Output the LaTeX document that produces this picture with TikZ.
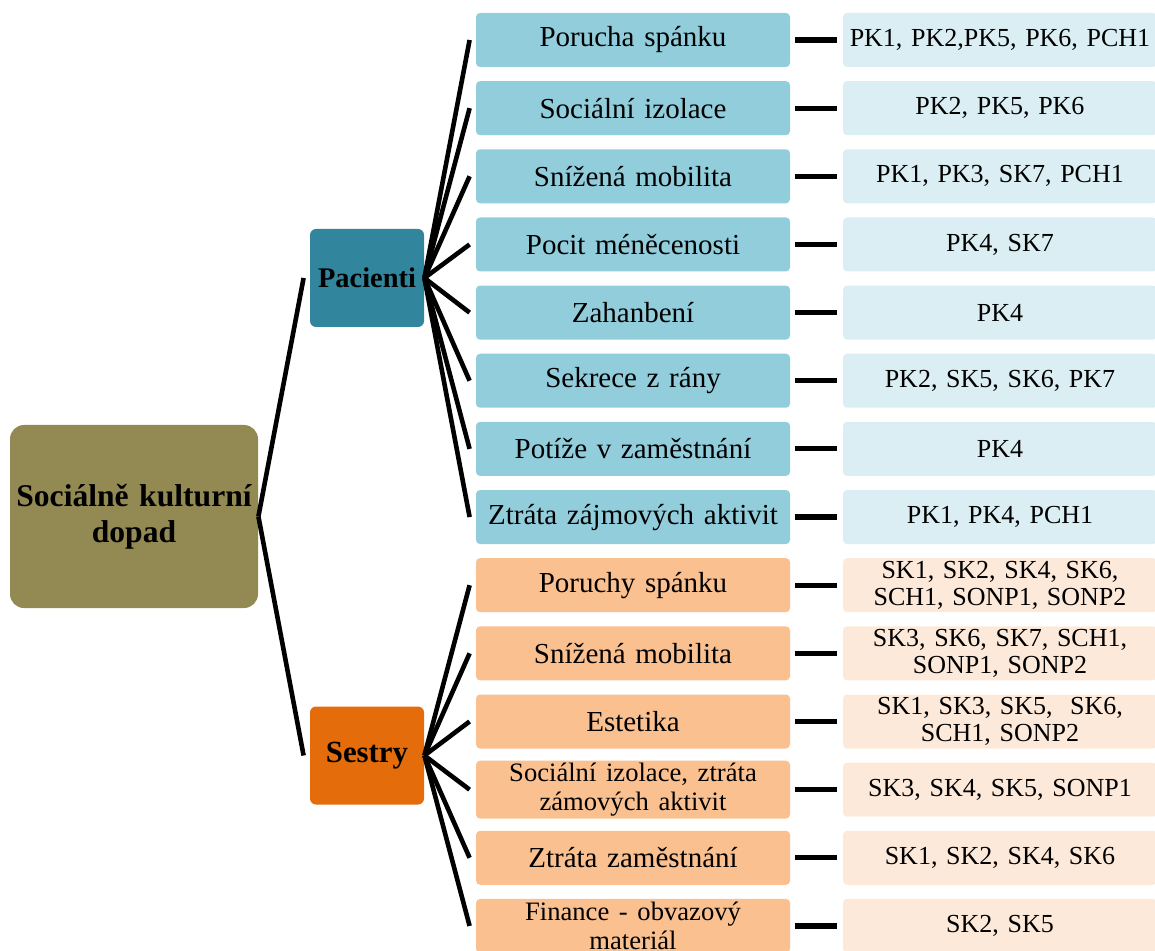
\documentclass[tikz,border=0pt]{standalone}
\usepackage{fontspec}
\setmainfont{Liberation Serif}
\usetikzlibrary{positioning,calc}
\definecolor{rootolive}{HTML}{938953}
\definecolor{pacteal}{HTML}{31859C}
\definecolor{pacmid}{HTML}{92CDDC}
\definecolor{paclight}{HTML}{DAEEF3}
\definecolor{sesorange}{HTML}{E46C0A}
\definecolor{sesmid}{HTML}{FAC090}
\definecolor{seslight}{HTML}{FDE9D9}
\newcommand{\twoline}{\fontsize{13.3}{13.4}\selectfont}
\tikzset{
  box/.style={rounded corners=2pt,inner sep=1pt,align=center},
  rootbox/.style={box,fill=rootolive,rounded corners=7pt,minimum width=124pt,
    minimum height=91.5pt,text width=122pt,
    font=\fontsize{15.8}{17.8}\selectfont\bfseries},
  grpbox/.style={box,rounded corners=3pt,minimum width=57pt,minimum height=49pt},
  itembox/.style={box,minimum width=157pt,minimum height=27pt,text width=155pt,
    font=\fontsize{14.5}{14.8}\selectfont},
  codebox/.style={box,minimum width=157pt,minimum height=27pt,text width=155pt,
    font=\fontsize{13}{13.7}\selectfont},
  branch/.style={line width=2.3pt,black},
  stub/.style={line width=2.6pt,black},
}

\begin{document}
\begin{tikzpicture}[x=0.5pt,y=-0.5pt]
  \useasboundingbox (0,0) rectangle (1155,951);
  \node[rootbox] (root) at (134,516.5) {Sociálně kulturní\\dopad};
  \node[grpbox,fill=pacteal,font=\fontsize{14.2}{15}\selectfont\bfseries]
    (pac) at (367,278) {Pacienti};
  \node[grpbox,fill=sesorange,font=\fontsize{15.4}{16}\selectfont\bfseries]
    (ses) at (367,755.5) {Sestry};
  \draw[branch] (root.east) -- ([xshift=-3pt]pac.west);
  \draw[branch] (root.east) -- ([xshift=-3pt]ses.west);
  % pacienti
  \foreach \i/\txt/\codes in {
      1/Porucha spánku/{PK1, PK2,PK5, PK6, PCH1},
      2/Sociální izolace/{PK2, PK5, PK6},
      3/Snížená mobilita/{PK1, PK3, SK7, PCH1},
      4/Pocit méněcenosti/{PK4, SK7},
      5/Zahanbení/PK4,
      6/Sekrece z rány/{PK2, SK5, SK6, PK7},
      7/Potíže v zaměstnání/PK4,
      8/Ztráta zájmových aktivit/{PK1, PK4, PCH1}}{
    \node[itembox,fill=pacmid] (p\i) at (633,{40+(\i-1)*68.15}) {\txt};
    \node[codebox,fill=paclight] (pc\i) at (1000,{40+(\i-1)*68.15}) {\codes};
    \draw[branch] (pac.east) -- ([xshift=-3pt]p\i.west);
    \draw[stub] ([xshift=2.5pt]p\i.east) -- ([xshift=-3pt]pc\i.west);
  }
  % sestry
  \foreach \i/\txt/\codes in {
      9/Poruchy spánku/{SK1, SK2, SK4, SK6,\\SCH1, SONP1, SONP2},
      10/Snížená mobilita/{SK3, SK6, SK7, SCH1,\\SONP1, SONP2},
      11/Estetika/{SK1, SK3, SK5,\ \ SK6,\\SCH1, SONP2},
      12/{\twoline Sociální izolace, ztráta\\zámových aktivit}/{SK3, SK4, SK5, SONP1},
      13/Ztráta zaměstnání/{SK1, SK2, SK4, SK6},
      14/{\twoline Finance - obvazový\\materiál}/{SK2, SK5}}{
    \node[itembox,fill=sesmid] (s\i) at (633,{40+(\i-1)*68.15}) {\txt};
    \node[codebox,fill=seslight] (sc\i) at (1000,{40+(\i-1)*68.15}) {\codes};
    \draw[branch] (ses.east) -- ([xshift=-3pt]s\i.west);
    \draw[stub] ([xshift=2.5pt]s\i.east) -- ([xshift=-3pt]sc\i.west);
  }
\end{tikzpicture}
\end{document}
